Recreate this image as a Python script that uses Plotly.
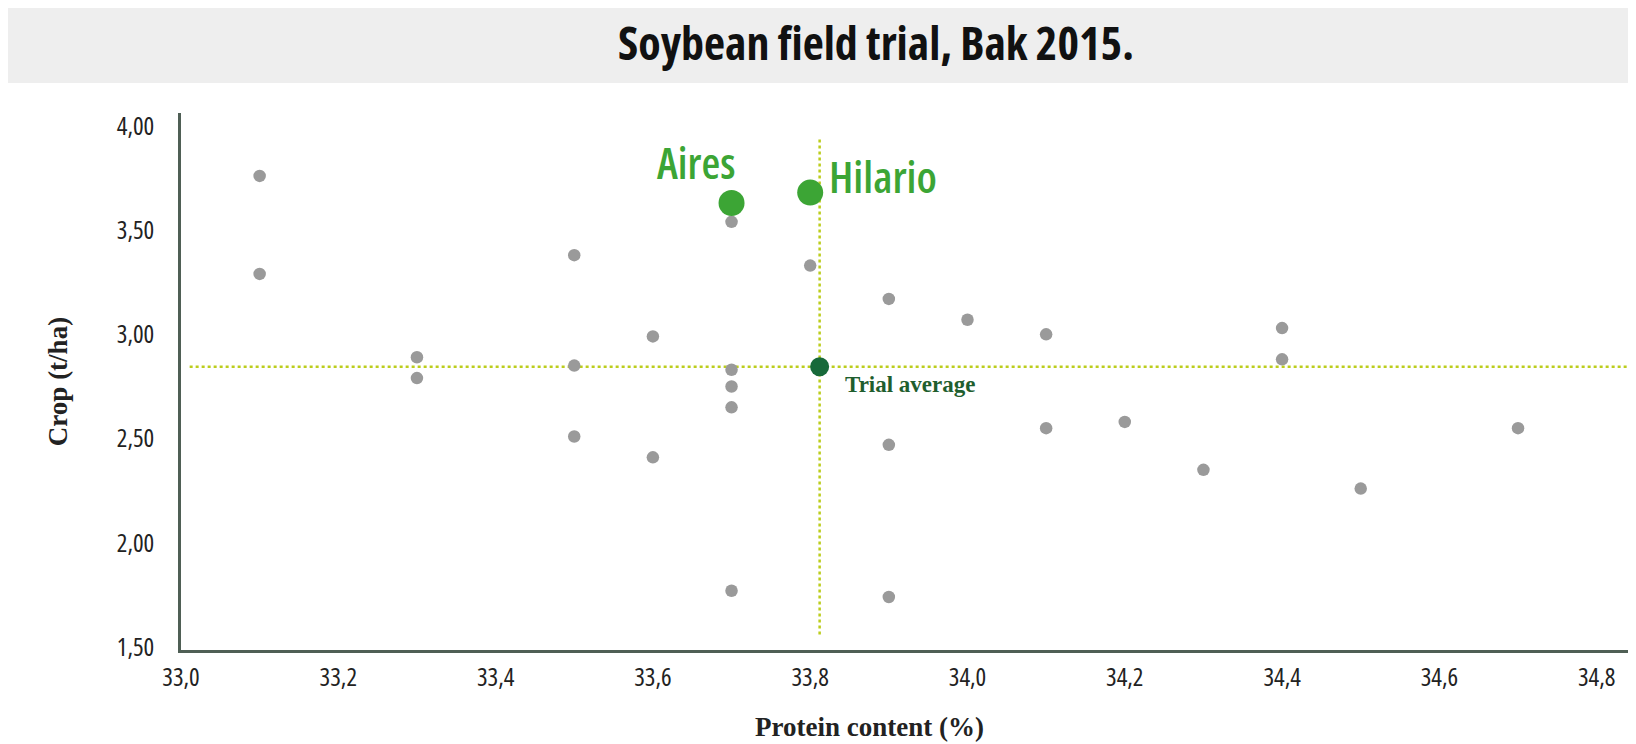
import plotly.graph_objects as go

# Trial varieties (grey dots)
protein = [33.1, 33.1, 33.3, 33.3, 33.5, 33.5, 33.5, 33.6, 33.6,
           33.7, 33.7, 33.7, 33.7, 33.7, 33.8, 33.9, 33.9, 33.9,
           34.0, 34.1, 34.1, 34.2, 34.3, 34.4, 34.4, 34.5, 34.7]
crop = [3.76, 3.29, 2.89, 2.79, 3.38, 2.85, 2.51, 2.99, 2.41,
        3.54, 2.83, 2.75, 2.65, 1.77, 3.33, 3.17, 2.47, 1.74,
        3.07, 3.00, 2.55, 2.58, 2.35, 3.03, 2.88, 2.26, 2.55]

# Highlighted varieties
hl_names = ["Aires", "Hilario"]
hl_protein = [33.7, 33.8]
hl_crop = [3.63, 3.68]

# Trial average
avg_protein = 33.812
avg_crop = 2.845

x_ticks = [33.0, 33.2, 33.4, 33.6, 33.8, 34.0, 34.2, 34.4, 34.6, 34.8]
x_tick_labels = ["33,0", "33,2", "33,4", "33,6", "33,8", "34,0", "34,2", "34,4", "34,6", "34,8"]
y_ticks = [1.5, 2.0, 2.5, 3.0, 3.5, 4.0]
y_tick_labels = ["1,50", "2,00", "2,50", "3,00", "3,50", "4,00"]

SANS = "Open Sans, Noto Sans, sans-serif"
SERIF = "Liberation Serif, DejaVu Serif, serif"
LINE_COL = "#bccd1c"
COND = "font-stretch:75%"


def cond(s):
    return f'<span style="{COND}">{s}</span>'


# page offset of the plot div (body margin)
OFF = 8
W, H = 1636 - OFF, 744 - OFF
PL, PR, PT, PB = 181, 1636, 113, 650  # plot area in page pixels
PW, PH = PR - PL, PB - PT

fig = go.Figure()

# average reference lines
fig.add_shape(type="line", xref="x", yref="y", x0=avg_protein, x1=avg_protein,
              y0=1.56, y1=3.94, line=dict(color=LINE_COL, width=2.5, dash="dot"), layer="below")
fig.add_shape(type="line", xref="x", yref="y", x0=33.011, x1=34.85,
              y0=avg_crop, y1=avg_crop, line=dict(color=LINE_COL, width=2.5, dash="dot"), layer="below")

fig.add_trace(go.Scatter(x=protein, y=crop, mode="markers",
                         marker=dict(size=12.5, color="#9a9a9a"), showlegend=False))
fig.add_trace(go.Scatter(x=hl_protein, y=hl_crop, mode="markers",
                         marker=dict(size=26, color="#3ca535"), showlegend=False))
fig.add_trace(go.Scatter(x=[avg_protein], y=[avg_crop], mode="markers",
                         marker=dict(size=19, color="#17693a"), showlegend=False))

# labels
fig.add_annotation(x=hl_protein[0], y=hl_crop[0], text=cond(hl_names[0]),
                   showarrow=False, xanchor="center", yanchor="middle", xshift=-36, yshift=41,
                   font=dict(family=SANS, size=43, color="#3ca535", weight=600))
fig.add_annotation(x=hl_protein[1], y=hl_crop[1], text=cond(hl_names[1]),
                   showarrow=False, xanchor="left", yanchor="middle", xshift=17, yshift=17,
                   font=dict(family=SANS, size=44, color="#3ca535", weight=600))
fig.add_annotation(x=avg_protein, y=avg_crop, text="<b>Trial average</b>", showarrow=False,
                   xanchor="left", yanchor="middle", xshift=23, yshift=-18,
                   font=dict(family=SERIF, size=23, color="#1f5e2e"))

# x axis title (centred as in the original, slightly left of the plot centre)
fig.add_annotation(xref="paper", yref="paper", x=(869 - PL) / PW, y=(PB - 727) / PH,
                   text="<b>Protein content (%)</b>", showarrow=False,
                   xanchor="center", yanchor="middle",
                   font=dict(family=SERIF, size=27, color="#222222"))

# title band
fig.add_shape(type="rect", xref="paper", yref="paper",
              x0=(OFF - PL) / PW, x1=1.0, y0=(PB - 83) / PH, y1=(PB - 5) / PH,
              fillcolor="#eeeeee", line=dict(width=0), layer="below")

fig.update_layout(
    width=W, height=H,
    margin=dict(l=PL - OFF, r=0, t=PT - OFF, b=H - (PB - OFF)),
    paper_bgcolor="white", plot_bgcolor="white",
    title=dict(text=cond("Soybean field trial, Bak 2015."),
               x=(876 - OFF) / W, xanchor="center",
               y=1 - (44 - OFF) / H, yanchor="middle",
               font=dict(family=SANS, size=46, color="#111111", weight=700)),
    xaxis=dict(range=[33.0, 34.85], tickvals=x_ticks, ticktext=[cond(t) for t in x_tick_labels],
               showgrid=False, zeroline=False, showline=True, linecolor="#4f5f55", linewidth=2.5,
               ticks="", tickfont=dict(family=SANS, size=25, color="#222222"),
               ticklabelstandoff=3),
    yaxis=dict(range=[1.4856, 4.062], tickvals=y_ticks, ticktext=[cond(t) for t in y_tick_labels],
               showgrid=False, zeroline=False, showline=True, linecolor="#4f5f55", linewidth=2.5,
               ticks="", tickfont=dict(family=SANS, size=25, color="#222222"),
               ticklabelstandoff=19,
               title=dict(text="<b>Crop (t/ha)</b>", standoff=42,
                          font=dict(family=SERIF, size=27, color="#222222"))),
)

fig.write_html("out.html")
